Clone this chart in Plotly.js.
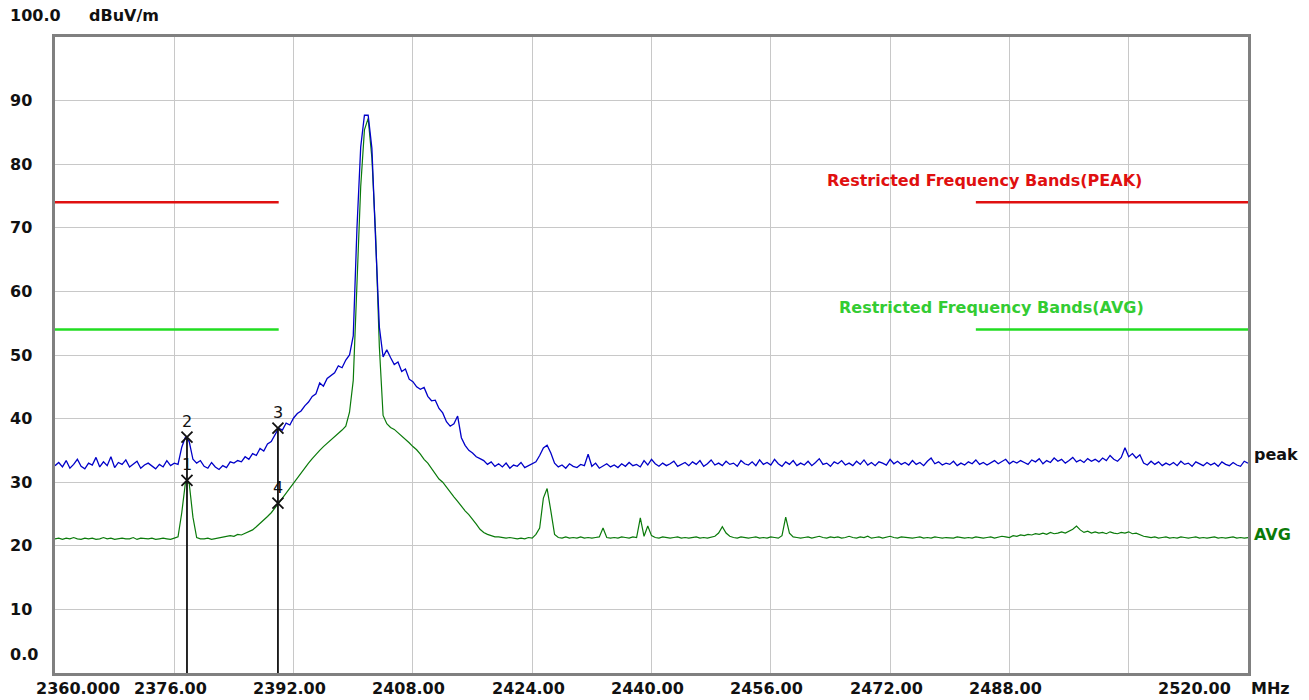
<!DOCTYPE html>
<html>
<head>
<meta charset="utf-8">
<script src="https://cdn.plot.ly/plotly-3.0.1.min.js"></script>
<style>
html,body{margin:0;padding:0;background:#fff;}
#chart{width:1309px;height:700px;}
</style>
</head>
<body>
<div id="chart"></div>
<script>
// Sweep: 2360 MHz start, 0.5 MHz step (321 points)
const sweepStart = 2360;
const sweepStep = 0.5;

// Peak detector trace (dBuV/m), one group of 10 values per 5 MHz
const peakLevel = [
  32.6, 33.1, 32.4, 33.4, 32.2, 32.8, 33.6, 32.5, 32.1, 33.0,
  32.7, 33.9, 32.4, 33.2, 32.6, 34.0, 32.3, 33.1, 32.8, 33.5,
  32.4, 32.9, 33.3, 32.2, 32.7, 33.0, 32.5, 32.1, 32.8, 32.4,
  33.4, 32.6, 33.0, 32.8, 35.5, 37.1, 36.4, 33.6, 33.0, 33.4,
  32.5, 32.2, 33.1, 32.4, 32.0, 32.6, 32.3, 33.2, 33.0, 33.4,
  33.2, 34.0, 33.6, 34.5, 34.2, 35.3, 34.9, 36.0, 36.4, 37.5,
  38.5, 38.2, 39.3, 39.0, 40.1, 40.8, 41.2, 42.0, 42.6, 43.5,
  43.9, 45.6, 45.1, 46.3, 46.8, 47.2, 48.3, 48.0, 49.2, 50.0,
  53.0, 70.0, 82.7, 87.7, 87.7, 82.5, 68.0, 54.4, 49.7, 50.8,
  49.6, 48.5, 48.9, 47.4, 47.8, 46.2, 45.8, 45.0, 44.6, 44.9,
  43.5, 42.8, 42.9, 41.6, 40.9, 39.5, 38.8, 39.2, 40.4, 37.0,
  35.8, 35.0, 34.6, 34.0, 33.7, 33.4, 32.8, 33.2, 32.5, 32.9,
  32.4, 33.0, 32.2, 32.7, 32.5, 33.1, 32.3, 32.6, 32.8, 33.2,
  34.2, 35.4, 35.8, 34.6, 33.0, 32.4, 32.7, 32.2, 32.9, 32.5,
  32.3, 32.8, 32.6, 34.4, 32.5, 33.0, 32.2, 32.6, 32.9, 32.4,
  32.7, 32.3, 32.9, 32.5, 33.1, 32.6, 32.8, 32.4, 33.4, 32.7,
  33.6, 32.9, 32.5, 33.0, 32.6, 32.9, 33.3, 32.5, 32.8, 33.1,
  32.6, 33.2, 32.8, 33.4, 32.5, 32.9, 33.5, 32.7, 33.0, 32.6,
  33.3, 32.8, 33.0, 32.5, 33.4, 32.9, 32.7, 33.2, 32.6, 33.5,
  32.8, 33.1, 32.7, 33.6, 32.9, 32.5, 33.2, 32.8, 33.4, 32.6,
  33.0, 32.7, 33.3, 32.6, 33.1, 33.7, 32.8, 33.0, 32.5, 33.2,
  32.9, 33.4, 32.7, 33.0, 32.6, 33.3, 32.8, 33.5, 32.7, 33.1,
  32.6, 33.2, 33.0, 32.7, 33.6, 32.9, 33.3, 32.8, 33.1, 32.7,
  33.4, 32.8, 33.1, 32.6, 33.3, 33.8, 32.9, 33.2, 32.7, 33.0,
  32.8, 33.3, 32.6, 33.0, 32.7, 33.2, 32.9, 33.5, 32.8, 33.1,
  32.7, 33.0, 33.4, 32.9, 33.2, 33.6, 32.9, 33.3, 33.0, 33.4,
  33.1, 32.8, 33.5, 33.2, 33.7, 32.9, 33.4, 33.1, 33.8, 33.3,
  33.6, 33.0, 33.4, 33.9, 33.2, 33.5, 33.1, 33.7, 33.3, 33.6,
  33.2, 33.8, 33.4, 34.2, 33.6, 33.3, 33.9, 35.4, 34.0, 34.5,
  33.8, 34.3, 33.0, 32.7, 33.3, 32.8, 33.2, 32.6, 33.0, 32.7,
  33.1, 32.6, 33.3, 32.8, 33.0, 32.5, 33.2, 32.9, 32.6, 33.1,
  32.7, 33.0, 32.5, 33.2, 32.8, 32.6, 33.1, 32.7, 32.5, 33.3,
  33.0
];

// Average detector trace (dBuV/m)
const avgLevel = [
  21.1, 21.2, 21.0, 21.2, 21.1, 21.3, 21.1, 21.0, 21.2, 21.1,
  21.2, 21.0, 21.1, 21.3, 21.1, 21.2, 21.0, 21.1, 21.2, 21.1,
  21.1, 21.3, 21.0, 21.2, 21.1, 21.1, 21.2, 21.0, 21.1, 21.2,
  21.1, 21.0, 21.2, 21.4, 25.2, 30.0, 29.8, 24.5, 21.3, 21.1,
  21.1, 21.2, 21.0, 21.1, 21.2, 21.3, 21.4, 21.6, 21.5, 21.8,
  21.7, 22.0, 22.2, 22.5, 23.0, 23.5, 24.0, 24.6, 25.2, 25.9,
  26.7, 27.5, 28.3, 29.1, 29.8, 30.6, 31.4, 32.2, 33.0, 33.7,
  34.4, 35.0, 35.6, 36.1, 36.6, 37.2, 37.7, 38.2, 38.8, 41.0,
  46.0, 60.0, 76.5, 85.4, 87.2, 81.0, 69.0, 51.3, 40.5, 39.2,
  38.6, 38.3, 37.8, 37.3, 36.7, 36.2, 35.6, 35.1, 34.4, 33.6,
  33.0, 32.2, 31.3, 30.5, 30.0, 29.2, 28.4, 27.7, 27.0, 26.2,
  25.5, 24.9, 24.2, 23.4, 22.6, 22.1, 21.8, 21.6, 21.4, 21.4,
  21.3, 21.2, 21.3, 21.2, 21.1, 21.2, 21.1, 21.3, 21.2, 21.8,
  22.8, 27.5, 29.0, 25.5, 21.8, 21.3, 21.2, 21.4, 21.2, 21.3,
  21.2, 21.4, 21.2, 21.3, 21.2, 21.3, 21.4, 22.8, 21.3, 21.2,
  21.3, 21.2, 21.4, 21.3, 21.2, 21.4, 21.3, 24.4, 21.5, 23.1,
  21.6, 21.3, 21.2, 21.4, 21.3, 21.2, 21.3, 21.4, 21.2, 21.3,
  21.2, 21.3, 21.4, 21.2, 21.3, 21.2, 21.4, 21.5, 22.0, 23.0,
  22.0, 21.5, 21.3, 21.2, 21.4, 21.3, 21.2, 21.3, 21.4, 21.2,
  21.3, 21.2, 21.4, 21.3, 21.2, 21.6, 24.5, 22.0, 21.4, 21.3,
  21.2, 21.3, 21.4, 21.2, 21.3, 21.5, 21.3, 21.2, 21.4, 21.3,
  21.4, 21.2, 21.3, 21.5, 21.3, 21.2, 21.4, 21.3, 21.5, 21.2,
  21.3, 21.4, 21.2, 21.3, 21.5, 21.3, 21.2, 21.4, 21.3, 21.2,
  21.2, 21.3, 21.4, 21.2, 21.3, 21.2, 21.4, 21.3, 21.2, 21.3,
  21.3, 21.2, 21.4, 21.3, 21.2, 21.3, 21.2, 21.4, 21.3, 21.2,
  21.3, 21.4, 21.2, 21.3, 21.5, 21.4, 21.3, 21.6, 21.5, 21.7,
  21.6, 21.8, 21.7, 21.9, 21.8, 22.0, 21.8, 22.1, 21.9, 22.0,
  22.2, 22.0, 22.3, 22.6, 23.1, 22.5, 22.1, 22.3, 22.0, 22.2,
  22.0, 22.1, 21.9, 22.2, 22.0, 21.9, 22.1, 22.0, 22.2, 21.9,
  22.0, 21.7, 21.5, 21.4, 21.3, 21.4, 21.2, 21.3, 21.4, 21.2,
  21.3, 21.2, 21.4, 21.3, 21.2, 21.3, 21.4, 21.2, 21.3, 21.2,
  21.3, 21.4, 21.2, 21.3, 21.2, 21.3, 21.4, 21.2, 21.3, 21.2,
  21.3
];

// Limits and restricted bands
const bandLow = [2360, 2390];
const bandHigh = [2483.5, 2520];
const peakLimit = 74;
const avgLimit = 54;

// Markers
const markerFreq = [2377.7, 2377.7, 2389.9, 2389.9];
const markerLevel = [30.3, 37.1, 38.5, 26.7];
const markerLabel = ['1', '2', '3', '4'];

// Axis labels
const xTickVals = [2376, 2392, 2408, 2424, 2440, 2456, 2472, 2488];
const xTickText = ['2376.00', '2392.00', '2408.00', '2424.00', '2440.00', '2456.00', '2472.00', '2488.00'];
const yTickVals = [10, 20, 30, 40, 50, 60, 70, 80, 90];
const yTickText = ['10', '20', '30', '40', '50', '60', '70', '80', '90'];

const FONT = 'DejaVu Sans, sans-serif';
const plotL = 55, plotW = 1193;

function limitTrace(level, color) {
  return {
    type: 'scatter', mode: 'lines',
    x: [bandLow[0], bandLow[1], null, bandHigh[0], bandHigh[1]],
    y: [level, level, null, level, level],
    line: {color: color, width: 2.5},
    hoverinfo: 'skip'
  };
}

const vx = [], vy = [];
const seen = {};
markerFreq.forEach((f, i) => {
  const top = Math.max(...markerLevel.filter((_, j) => markerFreq[j] === f));
  if (!seen[f]) { seen[f] = true; vx.push(f, f, null); vy.push(top, 0, null); }
});

const traces = [
  limitTrace(peakLimit, '#e01010'),
  limitTrace(avgLimit, '#22dd22'),
  {type: 'scatter', mode: 'lines', x0: sweepStart, dx: sweepStep, y: avgLevel,
   line: {color: '#0a7a0a', width: 1.2}},
  {type: 'scatter', mode: 'lines', x0: sweepStart, dx: sweepStep, y: peakLevel,
   line: {color: '#0000c8', width: 1.3}},
  {type: 'scatter', mode: 'lines', x: vx, y: vy, line: {color: '#111', width: 1.8}},
  {type: 'scatter', mode: 'markers', x: markerFreq, y: markerLevel,
   marker: {symbol: 'x-thin', size: 11, line: {color: '#111', width: 1.8}, color: '#111'}}
];

const ann = [];
function lab(text, x, y, opts) {
  ann.push(Object.assign({text: text, x: x, y: y, showarrow: false,
    font: {family: FONT, size: 16, color: '#111', weight: 'bold'}}, opts || {}));
}
// y tick labels
yTickVals.forEach((v, i) => lab(yTickText[i], (8 - plotL) / plotW, v,
  {xref: 'paper', yref: 'y', xanchor: 'left', yanchor: 'middle'}));
lab('100.0', (8 - plotL) / plotW, 100, {xref: 'paper', yref: 'y', xanchor: 'left', yanchor: 'middle', yshift: 22});
lab('dBuV/m', (87 - plotL) / plotW, 100, {xref: 'paper', yref: 'y', xanchor: 'left', yanchor: 'middle', yshift: 22});
lab('0.0', (8 - plotL) / plotW, 0, {xref: 'paper', yref: 'y', xanchor: 'left', yanchor: 'middle', yshift: 19});
// x tick labels
xTickVals.forEach((v, i) => lab(xTickText[i], v, 0,
  {xref: 'x', yref: 'y', xanchor: 'center', yanchor: 'middle', yshift: -15, xshift: -4}));
lab('2360.000', 2360, 0, {xref: 'x', yref: 'y', xanchor: 'left', yanchor: 'middle', yshift: -15, xshift: -21});
lab('2520.00', 2520, 0, {xref: 'x', yref: 'y', xanchor: 'right', yanchor: 'middle', yshift: -15, xshift: -15});
lab('MHz', 2520, 0, {xref: 'x', yref: 'y', xanchor: 'left', yanchor: 'middle', yshift: -15, xshift: 1});
// trace names
lab('peak', 1, 34.3, {xref: 'paper', yref: 'y', xanchor: 'left', yanchor: 'middle', xshift: 4});
lab('AVG', 1, 21.7, {xref: 'paper', yref: 'y', xanchor: 'left', yanchor: 'middle', xshift: 4,
  font: {family: FONT, size: 16, color: '#0a7a0a', weight: 'bold'}});
// limit labels
lab('Restricted Frequency Bands(PEAK)', 2484.6, 77.5, {xref: 'x', yref: 'y', xanchor: 'center', yanchor: 'middle',
  font: {family: FONT, size: 16, color: '#e01010', weight: 'bold'}});
lab('Restricted Frequency Bands(AVG)', 2485.6, 57.4, {xref: 'x', yref: 'y', xanchor: 'center', yanchor: 'middle',
  font: {family: FONT, size: 16, color: '#33cc33', weight: 'bold'}});
// marker numbers
markerLabel.forEach((t, i) => ann.push({text: t, x: markerFreq[i], y: markerLevel[i], xref: 'x', yref: 'y',
  showarrow: false, yshift: 16, xanchor: 'center', yanchor: 'middle',
  font: {family: FONT, size: 16, color: '#111'}}));

const layout = {
  width: 1309, height: 700,
  margin: {l: plotL, r: 1309 - 1248, t: 37, b: 27, pad: 0},
  paper_bgcolor: '#fff', plot_bgcolor: '#fff',
  showlegend: false, hovermode: false,
  xaxis: {range: [2360, 2520], tick0: 2360, dtick: 16, showticklabels: false, ticks: '',
    showgrid: true, gridcolor: '#c8c8c8', gridwidth: 1, zeroline: false,
    showline: true, mirror: true, linecolor: '#808080', linewidth: 3},
  yaxis: {range: [0, 100], tick0: 0, dtick: 10, showticklabels: false, ticks: '',
    showgrid: true, gridcolor: '#c8c8c8', gridwidth: 1, zeroline: false,
    showline: true, mirror: true, linecolor: '#808080', linewidth: 3},
  annotations: ann
};

Plotly.newPlot('chart', traces, layout, {displayModeBar: false, staticPlot: true});
</script>
</body>
</html>
